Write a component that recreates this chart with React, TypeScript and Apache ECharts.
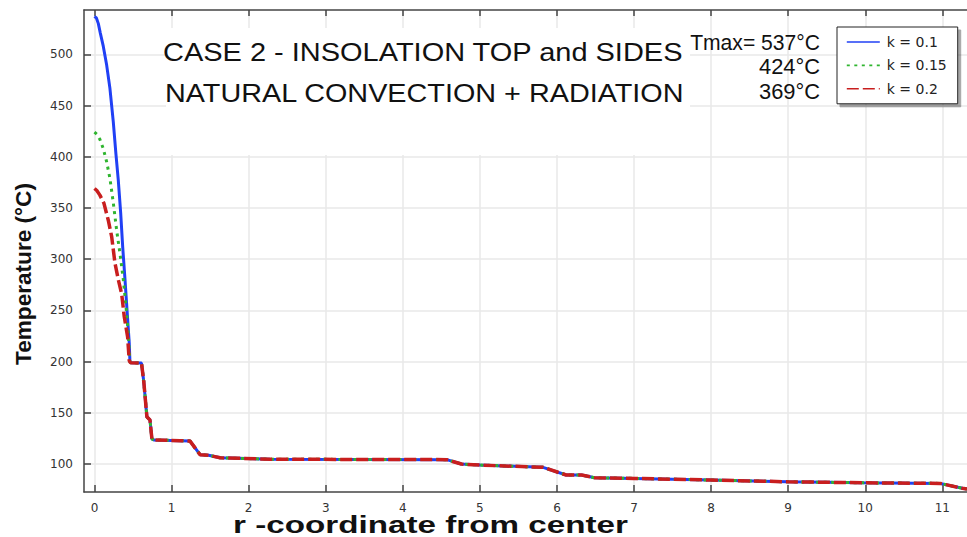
import React, { useEffect, useRef } from 'react';
import * as echarts from 'echarts';

// ---- data ----
const rBlueHead = [0, 0.025, 0.05, 0.075, 0.114, 0.158, 0.2, 0.244, 0.279, 0.309, 0.34, 0.366, 0.396, 0.425, 0.451, 0.46];
const tBlueHead = [537, 535.5, 530, 521, 508, 489.5, 467, 434, 402, 377, 345, 312, 280, 247, 218, 200];

const rGreenHead = [0, 0.03, 0.07, 0.114, 0.158, 0.2, 0.244, 0.288, 0.33, 0.374, 0.41, 0.438, 0.46];
const tGreenHead = [424, 422, 417, 408, 395, 379, 355, 328, 306, 280, 253, 227, 200];

const rRedHead = [0, 0.03, 0.07, 0.123, 0.179, 0.223, 0.266, 0.309, 0.353, 0.386, 0.43, 0.451, 0.46];
const tRedHead = [369, 367, 362.5, 354.5, 338, 322, 296, 280, 266, 244, 224, 201, 199.5];

// shared part of the three curves (they coincide beyond r ~ 0.46)
const rTail = [0.47, 0.61, 0.64, 0.68, 0.72, 0.745, 0.77, 1.11, 1.24, 1.37, 1.48, 1.63, 2.28, 4.57, 4.76, 5.0, 5.82, 6.12, 6.32, 6.49, 7.0, 7.99, 8.99, 9.97, 10.97, 11.26, 11.32];
const tTail = [198.8, 198.5, 180, 146, 143, 124.5, 123.5, 122.7, 122.3, 109, 108.5, 106, 104.6, 104.2, 99.9, 98.9, 96.7, 89.2, 89.2, 86.5, 85.9, 84.3, 82.6, 81.6, 81.0, 76.2, 75.5];

const seriesNames = ['k = 0.1', 'k = 0.15', 'k = 0.2'];
const xTicks = [0, 1, 2, 3, 4, 5, 6, 7, 8, 9, 10, 11];
const yTicks = [100, 150, 200, 250, 300, 350, 400, 450, 500];
const tmaxLabels = ['Tmax= 537°C', '424°C', '369°C'];
const titleLines = ['CASE 2 - INSOLATION TOP and SIDES', 'NATURAL CONVECTION + RADIATION'];
const xAxisTitle = 'r -coordinate from center';
const yAxisTitle = 'Temperature (°C)';

const X_MIN = -0.136;
const X_MAX = 11.32;
const Y_MIN = 72.6;
const Y_MAX = 543.3;

function pairs(r: number[], t: number[]) {
  return r.map((v, i) => [v, t[i]]);
}

export default function App() {
  const ref = useRef<HTMLDivElement>(null);

  useEffect(() => {
    const el = ref.current;
    if (!el) return;
    const chart = echarts.init(el, null, { renderer: 'svg' });

    const ctx = document.createElement('canvas').getContext('2d');
    const fit = (text: string, font: string, target: number) => {
      if (!ctx) return 1;
      ctx.font = font;
      const w = ctx.measureText(text).width;
      return w > 0 ? target / w : 1;
    };

    const sans = "'Liberation Sans', Arial, sans-serif";
    const dv = "'DejaVu Sans', sans-serif";

    const title1Font = `26px ${sans}`;
    const tmaxFont = `22px ${sans}`;
    const axisTitleFont = `bold 24px ${sans}`;
    const yTitleFont = `bold 22px ${sans}`;

    const blueData = pairs(rBlueHead, tBlueHead).concat(pairs(rTail, tTail));
    const greenData = pairs(rGreenHead, tGreenHead).concat(pairs(rTail, tTail));
    const redData = pairs(rRedHead, tRedHead).concat(pairs(rTail, tTail));

    const axisLineStyle = { color: '#444', width: 1.5 };

    const option: any = {
      animation: false,
      backgroundColor: '#ffffff',
      grid: { left: 84, right: 0, top: 10, bottom: 45, containLabel: false },
      legend: {
        orient: 'vertical',
        left: 837,
        top: 27,
        padding: [8, 11, 8, 9],
        itemWidth: 33,
        itemHeight: 14,
        itemGap: 9.4,
        selectedMode: false,
        backgroundColor: '#ffffff',
        borderColor: '#222',
        borderWidth: 1,
        borderRadius: 0,
        shadowColor: 'rgba(0,0,0,0.35)',
        shadowOffsetX: 3,
        shadowOffsetY: 3,
        shadowBlur: 1,
        itemStyle: { color: 'rgba(0,0,0,0)', borderWidth: 0, opacity: 0 },
        lineStyle: { width: 1.6 },
        textStyle: { fontFamily: dv, fontSize: 14, color: '#222', padding: [0, 0, 0, 2] },
        data: seriesNames,
      },
      xAxis: [
        {
          type: 'value',
          position: 'bottom',
          min: X_MIN,
          max: X_MAX,
          axisLine: { show: true, onZero: false, lineStyle: axisLineStyle },
          axisTick: { show: true, inside: true, length: 7, customValues: xTicks, lineStyle: axisLineStyle },
          axisLabel: {
            show: true,
            customValues: xTicks,
            margin: 10,
            color: '#333',
            fontFamily: dv,
            fontSize: 12,
            formatter: (v: number) => String(v),
          },
          splitLine: { show: true, lineStyle: { color: '#e9e9e9', width: 1.5 } },
        },
        {
          type: 'value',
          position: 'top',
          min: X_MIN,
          max: X_MAX,
          axisLine: { show: true, onZero: false, lineStyle: axisLineStyle },
          axisTick: { show: true, inside: true, length: 6, customValues: xTicks, lineStyle: axisLineStyle },
          axisLabel: { show: false },
          splitLine: { show: false },
        },
      ],
      yAxis: {
        type: 'value',
        min: Y_MIN,
        max: Y_MAX,
        axisLine: { show: true, onZero: false, lineStyle: axisLineStyle },
        axisTick: { show: true, inside: true, length: 7, customValues: yTicks, lineStyle: axisLineStyle },
        axisLabel: {
          show: true,
          customValues: yTicks,
          margin: 11,
          color: '#333',
          fontFamily: dv,
          fontSize: 12,
          formatter: (v: number) => String(v),
        },
        splitLine: { show: true, lineStyle: { color: '#e9e9e9', width: 1.5 } },
      },
      series: [
        {
          type: 'line',
          name: seriesNames[0],
          data: blueData,
          symbol: 'none',
          showSymbol: false,
          z: 2,
          itemStyle: { color: '#2040f5' },
          lineStyle: { color: '#2040f5', width: 3, type: 'solid' },
        },
        {
          type: 'line',
          name: seriesNames[1],
          data: greenData,
          symbol: 'none',
          showSymbol: false,
          z: 3,
          itemStyle: { color: '#2fb52f' },
          lineStyle: { color: '#2fb52f', width: 3, type: [3, 4.5] },
        },
        {
          type: 'line',
          name: seriesNames[2],
          data: redData,
          symbol: 'none',
          showSymbol: false,
          z: 4,
          itemStyle: { color: '#c81e1e' },
          lineStyle: { color: '#c81e1e', width: 3.5, type: [12, 4] },
        },
      ],
      graphic: [
        {
          type: 'rect',
          z: 1,
          silent: true,
          shape: { x: 166, y: 28, width: 524, height: 127 },
          style: { fill: '#ffffff' },
        },
        {
          type: 'text',
          z: 10,
          x: 163,
          y: 52,
          scaleX: fit(titleLines[0], title1Font, 521),
          style: { text: titleLines[0], font: title1Font, fill: '#111', align: 'left', verticalAlign: 'middle' },
        },
        {
          type: 'text',
          z: 10,
          x: 165,
          y: 93,
          scaleX: fit(titleLines[1], title1Font, 520),
          style: { text: titleLines[1], font: title1Font, fill: '#111', align: 'left', verticalAlign: 'middle' },
        },
        {
          type: 'text',
          z: 10,
          x: 820,
          y: 42,
          scaleX: fit(tmaxLabels[0], tmaxFont, 130),
          style: { text: tmaxLabels[0], font: tmaxFont, fill: '#111', align: 'right', verticalAlign: 'middle' },
        },
        {
          type: 'text',
          z: 10,
          x: 820,
          y: 66,
          scaleX: fit(tmaxLabels[1], tmaxFont, 61),
          style: { text: tmaxLabels[1], font: tmaxFont, fill: '#111', align: 'right', verticalAlign: 'middle' },
        },
        {
          type: 'text',
          z: 10,
          x: 820,
          y: 91,
          scaleX: fit(tmaxLabels[2], tmaxFont, 61),
          style: { text: tmaxLabels[2], font: tmaxFont, fill: '#111', align: 'right', verticalAlign: 'middle' },
        },
        {
          type: 'text',
          z: 10,
          x: 233,
          y: 525,
          scaleX: fit(xAxisTitle, axisTitleFont, 395),
          style: { text: xAxisTitle, font: axisTitleFont, fill: '#111', align: 'left', verticalAlign: 'middle' },
        },
        {
          type: 'text',
          z: 10,
          x: 24,
          y: 274,
          rotation: Math.PI / 2,
          scaleX: fit(yAxisTitle, yTitleFont, 182),
          style: { text: yAxisTitle, font: yTitleFont, fill: '#111', align: 'center', verticalAlign: 'middle' },
        },
      ],
    };

    chart.setOption(option);
    return () => chart.dispose();
  }, []);

  return (
    <div
      ref={ref}
      style={{ position: 'fixed', left: 0, top: 0, width: 967, height: 537, background: '#fff' }}
    />
  );
}
